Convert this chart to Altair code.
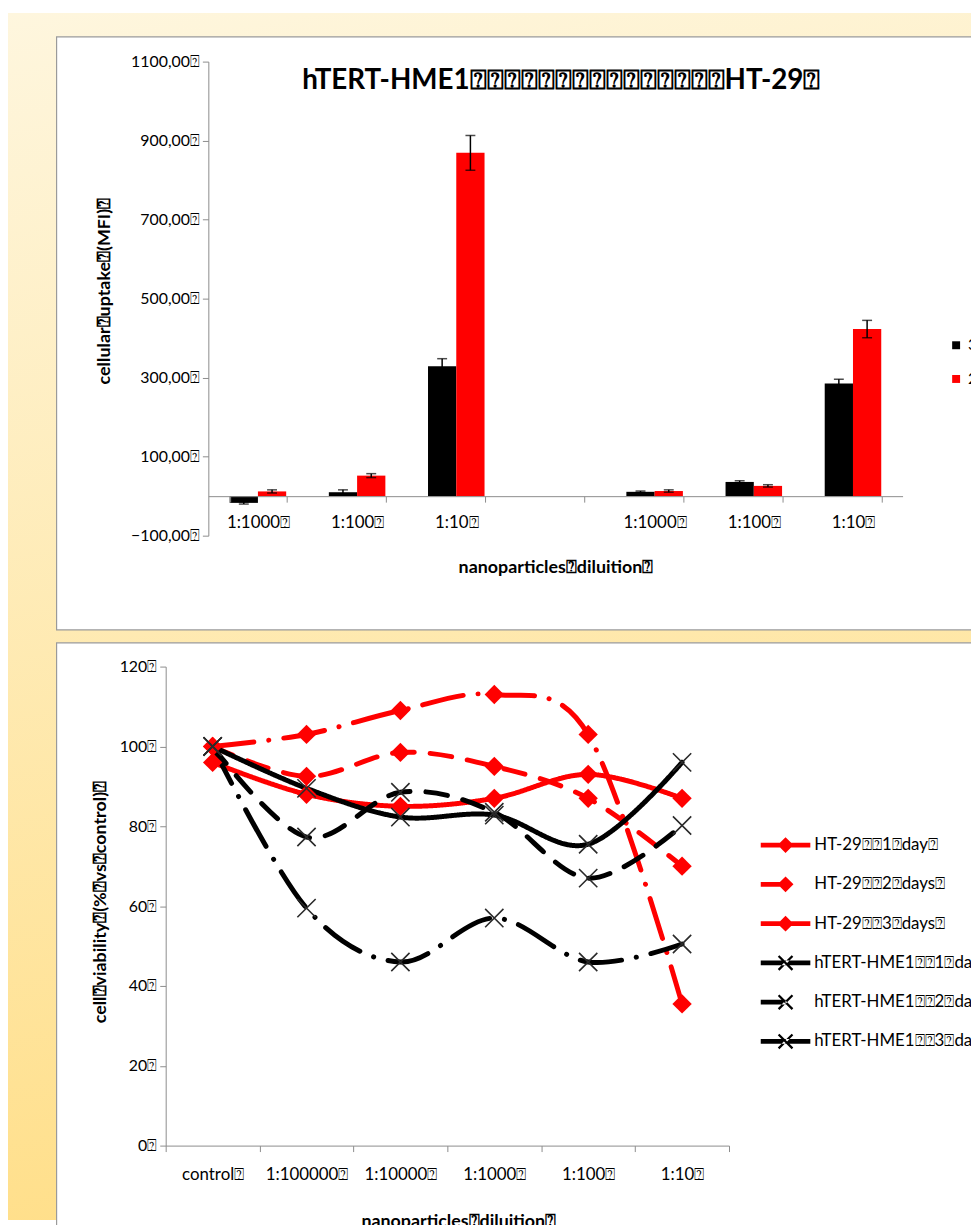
import altair as alt
import pandas as pd

BOX = "\u2370"

# ---------------- data: cellular uptake (bar chart) ----------------
bar_keys = ["hme_1000", "hme_100", "hme_10", "gap", "ht_1000", "ht_100", "ht_10"]
bar_labels = ["1:1000" + BOX, "1:100" + BOX, "1:10" + BOX, "", "1:1000" + BOX, "1:100" + BOX, "1:10" + BOX]
bar_series = ["3h" + BOX, "24h" + BOX]
bar_colors = ["#000000", "#ff0000"]
black_values = [-17, 10, 329, None, 11, 36, 285]
black_errors = [3, 6, 19, None, 2, 3, 11]
red_values = [12, 52, 869, None, 13, 26, 423]
red_errors = [4, 5, 44, None, 3, 3, 22]
uptake_ticks = [-100, 100, 300, 500, 700, 900, 1100]

# ---------------- data: cell viability (line chart) ----------------
line_cats = ["control" + BOX, "1:100000" + BOX, "1:10000" + BOX, "1:1000" + BOX, "1:100" + BOX, "1:10" + BOX]
line_series = [
    "HT-29" + BOX + BOX + "1" + BOX + "day" + BOX,
    "HT-29" + BOX + BOX + "2" + BOX + "days" + BOX,
    "HT-29" + BOX + BOX + "3" + BOX + "days" + BOX,
    "hTERT-HME1" + BOX + BOX + "1" + BOX + "day" + BOX,
    "hTERT-HME1" + BOX + BOX + "2" + BOX + "days" + BOX,
    "hTERT-HME1" + BOX + BOX + "3" + BOX + "days" + BOX,
]
ht29_1day = [96, 88, 85, 87, 93, 87]
ht29_2days = [100, 92.5, 98.5, 95, 87, 70]
ht29_3days = [100, 103, 109, 113, 103, 35.5]
hme_1day = [100, 89.5, 82.3, 82.8, 75.5, 96]
hme_2days = [100, 77.3, 88.5, 83.5, 67, 80.2]
hme_3days = [100, 59.5, 46, 57, 46, 50.5]
viability_ticks = [0, 20, 40, 60, 80, 100, 120]

# ---------------- tables ----------------
bar_rows = []
for k, bv, be, rv, rerr in zip(bar_keys, black_values, black_errors, red_values, red_errors):
    if bv is None:
        continue
    bar_rows.append({"key": k, "series": bar_series[0], "value": bv, "err": be})
    bar_rows.append({"key": k, "series": bar_series[1], "value": rv, "err": rerr})
bar_df = pd.DataFrame(bar_rows)

line_rows = []
series_vals = [ht29_1day, ht29_2days, ht29_3days, hme_1day, hme_2days, hme_3days]
for sid, (s, vals) in enumerate(zip(line_series, series_vals)):
    for i, (c, v) in enumerate(zip(line_cats, vals)):
        line_rows.append({"cat": c, "series": s, "sid": "s%d" % sid, "value": v, "idx": i})
line_df = pd.DataFrame(line_rows)
sid_domain = ["s%d" % i for i in range(len(line_series))]

# ---------------- layout (page px -> plot px) ----------------
W, H = 971, 1217
M = 8
def X(p):
    return p - M
def Y(p):
    return p - M

FONT = "Lato"
GREY = "#8c8c8c"
RED = "#ff0000"
BLACK = "#000000"
TICK_FS = 16
XTICK_FS = 17
TITLE_FS = 18

# ---------------- top chart ----------------
def top_x_scale():
    return alt.Scale(domain=bar_keys, range=[X(210), X(910)], paddingInner=0.43, paddingOuter=0.215)
def top_y_scale():
    return alt.Scale(domain=[-100, 1100], range=[Y(535), Y(57)], nice=False)
zero_top = Y(535) - (0 + 100) / 1200 * (535 - 57)

lbl_arr = "[" + ",".join("'" + l + "'" for l in bar_labels) + "]"
key_arr = "[" + ",".join("'" + k + "'" for k in bar_keys) + "]"
top_x_axis = alt.Axis(
    orient="bottom", offset=-(H - zero_top), title="nanoparticles" + BOX + "diluition" + BOX,
    labelExpr=lbl_arr + "[indexof(" + key_arr + ", datum.value)]", labelAngle=0,
    tickBand="extent", tickSize=6, tickColor=GREY, domainColor=GREY, labelPadding=13,
    labelFontSize=XTICK_FS, titleFontSize=TITLE_FS, titleFontWeight="bold", titleX=X(560), titleY=72,
    titleBaseline="middle", titleAlign="center", labelOverlap=False, grid=False, zindex=2,
)
top_y_axis = alt.Axis(
    orient="left", offset=-X(210), values=uptake_ticks,
    labelExpr="replace(format(datum.value, '.2f'), '.', ',') + '" + BOX + "'",
    tickSize=6, tickColor=GREY, domainColor=GREY, labelFontSize=TICK_FS, labelPadding=3,
    title="cellular" + BOX + "uptake" + BOX + "(MFI)" + BOX, titleX=-(210 - 105), titleY=Y(288),
    titleAngle=-90, titleBaseline="middle", titleAlign="center",
    titleFontSize=TITLE_FS, titleFontWeight="bold", grid=False, labelOverlap=False, zindex=2,
)
top_legend = alt.Legend(
    orient="none", legendX=X(956), legendY=Y(335), title=None, symbolType="square",
    symbolSize=64, symbolStrokeWidth=0, labelFontSize=16, labelOffset=4, rowPadding=18,
    labelColor="black", labelFont=FONT, zindex=2,
)
def xoff():
    return alt.XOffset("series:N", scale=alt.Scale(domain=bar_series, paddingInner=0, paddingOuter=0))

bars = alt.Chart(bar_df).mark_bar().encode(
    x=alt.X("key:N", scale=top_x_scale(), axis=top_x_axis),
    xOffset=xoff(),
    y=alt.Y("value:Q", scale=top_y_scale(), axis=top_y_axis),
    color=alt.Color("series:N", scale=alt.Scale(domain=bar_series, range=bar_colors), legend=top_legend),
)
err_base = alt.Chart(bar_df).transform_calculate(lo="datum.value - datum.err", hi="datum.value + datum.err")
err_rule = err_base.mark_rule(color=BLACK, strokeWidth=1.5).encode(
    x=alt.X("key:N", scale=top_x_scale(), axis=None), xOffset=xoff(),
    y=alt.Y("lo:Q", scale=top_y_scale(), axis=None), y2="hi:Q",
)
cap_hi = err_base.mark_tick(color=BLACK, thickness=1.5, size=10).encode(
    x=alt.X("key:N", scale=top_x_scale(), axis=None), xOffset=xoff(),
    y=alt.Y("hi:Q", scale=top_y_scale(), axis=None),
)
cap_lo = err_base.mark_tick(color=BLACK, thickness=1.5, size=10).encode(
    x=alt.X("key:N", scale=top_x_scale(), axis=None), xOffset=xoff(),
    y=alt.Y("lo:Q", scale=top_y_scale(), axis=None),
)

# ---------------- bottom chart ----------------
def bot_x_scale():
    return alt.Scale(type="band", domain=line_cats, range=[X(167), X(735)], paddingInner=0, paddingOuter=0)
def bot_y_scale():
    return alt.Scale(domain=[0, 120], range=[Y(1150), Y(667)], nice=False)
bot_x_axis = alt.Axis(
    orient="bottom", offset=-(H - Y(1150)), title="nanoparticles" + BOX + "diluition" + BOX, labelAngle=0,
    tickBand="extent", tickSize=6, tickColor=GREY, domainColor=GREY, labelPadding=15,
    labelFontSize=XTICK_FS, titleFontSize=TITLE_FS, titleFontWeight="bold", titleX=X(462), titleY=77,
    titleBaseline="middle", titleAlign="center", labelOverlap=False, grid=False, zindex=2,
)
bot_y_axis = alt.Axis(
    orient="left", offset=-X(167), values=viability_ticks, labelExpr="datum.value + '" + BOX + "'",
    tickSize=6, tickColor=GREY, domainColor=GREY, labelFontSize=TICK_FS, labelPadding=3,
    title="cell" + BOX + "viability" + BOX + "(%" + BOX + "vs" + BOX + "control)" + BOX,
    titleX=-(167 - 101), titleY=Y(904), titleAngle=-90, titleBaseline="middle", titleAlign="center",
    titleFontSize=TITLE_FS, titleFontWeight="bold", grid=False, labelOverlap=False, zindex=2,
)
line_colors = [RED, RED, RED, BLACK, BLACK, BLACK]
dash_solid = [1, 0]
dash_dash = [22, 16]
dash_dashdot = [42, 15, 0.1, 15]
line_dashes = [dash_solid, dash_dash, dash_dashdot, dash_solid, dash_dash, dash_dashdot]

def bx(axis=None):
    return alt.X("cat:N", scale=bot_x_scale(), axis=axis, bandPosition=0.5)
def by(axis=None):
    return alt.Y("value:Q", scale=bot_y_scale(), axis=axis)

lines = alt.Chart(line_df).mark_line(strokeWidth=5, strokeCap="round", strokeJoin="round", interpolate="cardinal").encode(
    x=bx(bot_x_axis), y=by(bot_y_axis),
    stroke=alt.Stroke("sid:N", scale=alt.Scale(domain=sid_domain, range=line_colors), legend=None),
    strokeDash=alt.StrokeDash("sid:N", scale=alt.Scale(domain=sid_domain, range=line_dashes), legend=None),
    order="idx:Q",
)
red_pts = alt.Chart(line_df).transform_filter(
    alt.FieldOneOfPredicate(field="series", oneOf=line_series[:3])
).mark_point(shape="diamond", filled=True, size=380, color=RED, opacity=1).encode(x=bx(), y=by())
black_pts = alt.Chart(line_df).transform_filter(
    alt.FieldOneOfPredicate(field="series", oneOf=line_series[3:])
).mark_point(shape="M-1,-1L1,1M-1,1L1,-1", filled=False, size=340, color="#2a2a2a", strokeWidth=1.6, opacity=1).encode(
    x=bx(), y=by())

# legend symbols: thick line segment + marker (units of 10 px)
seg_long = "M-2.5,-0.24L2.5,-0.24L2.5,0.24L-2.5,0.24Z"
seg_short = "M-2.5,-0.24L0,-0.24L0,0.24L-2.5,0.24Z"
diamond = "M0,-0.8L0.8,0L0,0.8L-0.8,0Z"
a, d = 0.7, 0.08
xmark = (f"M{-a+d},{-a-d}L{a+d},{a-d}L{a-d},{a+d}L{-a-d},{-a+d}Z"
         f"M{-a+d},{a+d}L{a+d},{-a+d}L{a-d},{-a-d}L{-a-d},{a-d}Z")
legend_paths = [seg_long + diamond, seg_short + diamond, seg_long + diamond,
                seg_long + xmark, seg_short + xmark, seg_long + xmark]
bot_legend = alt.Legend(
    orient="none", legendX=X(782), legendY=Y(847) - 10, title=None, symbolSize=400,
    symbolStrokeWidth=0, symbolOpacity=1, labelFontSize=17, labelFont=FONT, labelColor="black",
    labelOffset=19, rowPadding=21.6, labelLimit=400, zindex=2,
)
legend_layer = alt.Chart(alt.Data(values=[])).mark_point(filled=True, opacity=1).encode(
    color=alt.Color("series:N", type="nominal", scale=alt.Scale(domain=line_series, range=line_colors), legend=bot_legend),
    shape=alt.Shape("series:N", type="nominal", scale=alt.Scale(domain=line_series, range=legend_paths), legend=bot_legend),
)

# ---------------- page decoration ----------------
one = alt.Data(values=[{"a": 1}])
page_bg = alt.Chart(one).mark_rect(
    fill={"gradient": "linear", "x1": 0, "x2": 0.15, "y1": 0, "y2": 1,
          "stops": [{"offset": 0, "color": "#fef6de"}, {"offset": 1, "color": "#ffdf8a"}]},
    strokeWidth=0,
).encode(x=alt.value(0), x2=alt.value(W), y=alt.value(0), y2=alt.value(H))
panel_top = alt.Chart(one).mark_rect(fill="white", stroke="#9a9a9a", strokeWidth=1.2).encode(
    x=alt.value(X(57)), x2=alt.value(W + 20), y=alt.value(Y(32)), y2=alt.value(Y(630)))
panel_bot = alt.Chart(one).mark_rect(fill="white", stroke="#9a9a9a", strokeWidth=1.2).encode(
    x=alt.value(X(57)), x2=alt.value(W + 20), y=alt.value(Y(643)), y2=alt.value(H + 20))

title_text = "hTERT-HME1" + BOX * 15 + "HT-29" + BOX

chart = alt.layer(
    page_bg, panel_top, panel_bot,
    bars, err_rule, cap_hi, cap_lo,
    lines, red_pts, black_pts, legend_layer,
).resolve_scale(
    x="independent", y="independent", xOffset="independent", color="independent",
    shape="independent", stroke="independent", strokeDash="independent",
).resolve_axis(x="independent", y="independent").resolve_legend(
    color="independent", shape="independent", stroke="independent", strokeDash="independent"
).properties(
    width=W, height=H, padding=0, autosize=alt.AutoSizeParams(type="none"),
    title=alt.TitleParams(title_text, anchor="middle", frame="group", offset=-97, dx=X(566) - W / 2,
                          fontSize=28, fontWeight="bold", font=FONT, color="black", baseline="middle"),
).configure(font=FONT).configure_view(stroke=None).configure_axis(
    labelFont=FONT, titleFont=FONT, labelColor="black", titleColor="black"
)

chart.save("out.html", embed_options={"renderer": "svg", "actions": False})
